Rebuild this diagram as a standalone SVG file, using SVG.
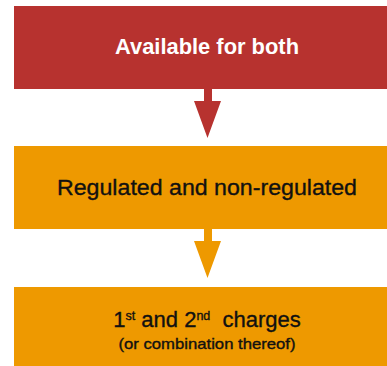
<svg xmlns="http://www.w3.org/2000/svg" width="387" height="366" viewBox="0 0 387 366">
<style>
.t{font-family:"Liberation Sans",Arial,sans-serif;text-anchor:middle}
.dk{fill:#111111;stroke:#111111;stroke-width:0.35}
.red{fill:#B7322F}
.org{fill:#EE9900}
</style>
<rect width="387" height="366" fill="#ffffff"/>
<g id="node-both">
<rect class="red" x="14" y="6" width="373" height="83"/>
<text class="t" x="207" y="54" font-size="21.5" font-weight="bold" fill="#ffffff" textLength="184" lengthAdjust="spacingAndGlyphs">Available for both</text>
</g>
<g id="node-regulated">
<rect class="org" x="14" y="146" width="373" height="83"/>
<text class="t dk" x="207" y="195" font-size="22.5" textLength="300" lengthAdjust="spacingAndGlyphs">Regulated and non-regulated</text>
</g>
<g id="node-charges">
<rect class="org" x="14" y="287" width="373" height="79"/>
<text class="t dk" x="207" y="327" font-size="22">1<tspan font-size="12.5" dy="-7">st</tspan><tspan dy="7"> and 2</tspan><tspan font-size="12.5" dy="-7">nd</tspan><tspan dy="7" dx="6"> charges</tspan></text>
<text class="t dk" x="207" y="349" font-size="14.5" stroke-width="0.3" textLength="177" lengthAdjust="spacingAndGlyphs">(or combination thereof)</text>
</g>
<g id="connectors">
<polygon class="red" points="204,89 212,89 212,101 221,101 207.5,138 194,101 204,101"/>
<polygon class="org" points="204,229 212,229 212,241 221,241 207.5,278 194,241 204,241"/>
</g>
</svg>
